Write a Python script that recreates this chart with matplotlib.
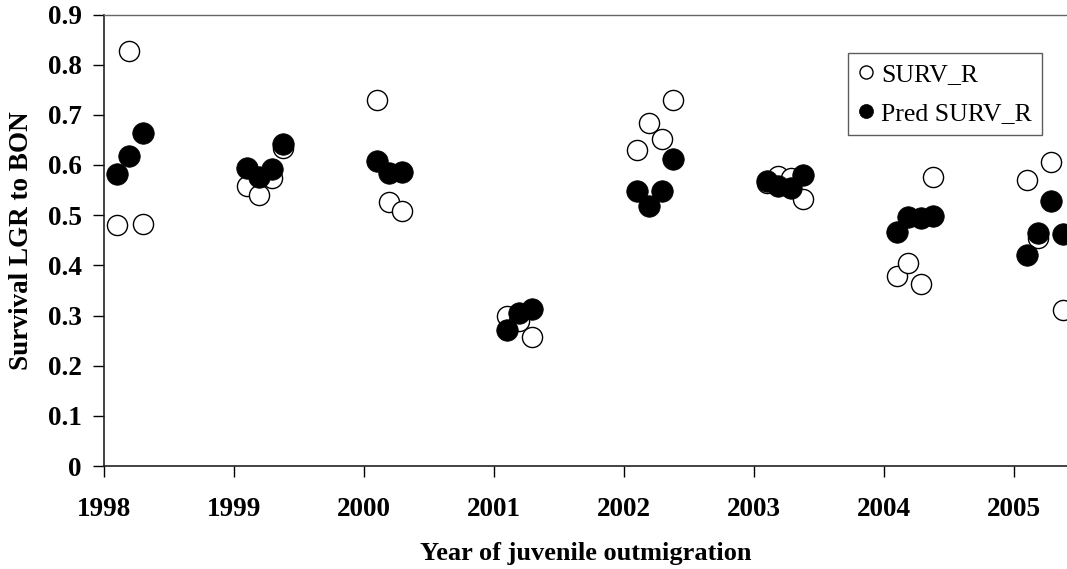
import matplotlib
matplotlib.use("Agg")
import matplotlib.pyplot as plt
import numpy as np

# Data
x_pos = [1998.10, 1998.19, 1998.30,
         1999.10, 1999.19, 1999.29, 1999.38,
         2000.10, 2000.19, 2000.29,
         2001.10, 2001.19, 2001.29,
         2002.10, 2002.19, 2002.29, 2002.38,
         2003.10, 2003.19, 2003.29, 2003.38,
         2004.10, 2004.19, 2004.29, 2004.38,
         2005.10, 2005.19, 2005.29, 2005.38]
surv_r = [0.480, 0.828, 0.483,
          0.558, 0.540, 0.574, 0.634,
          0.729, 0.526, 0.508,
          0.299, 0.289, 0.257,
          0.630, 0.683, 0.652, 0.730,
          0.565, 0.578, 0.575, 0.533,
          0.379, 0.405, 0.363, 0.577,
          0.571, 0.455, 0.605, 0.311]
pred_surv_r = [0.583, 0.617, 0.663,
               0.594, 0.576, 0.592, 0.642,
               0.608, 0.584, 0.587,
               0.271, 0.305, 0.313,
               0.548, 0.519, 0.548, 0.611,
               0.569, 0.559, 0.555, 0.581,
               0.467, 0.497, 0.495, 0.499,
               0.420, 0.465, 0.529, 0.462]
year_ticks = [1998, 1999, 2000, 2001, 2002, 2003, 2004, 2005]
y_ticks = [0, 0.1, 0.2, 0.3, 0.4, 0.5, 0.6, 0.7, 0.8, 0.9]

plt.rcParams['font.family'] = ['Liberation Serif', 'DejaVu Serif']

fig = plt.figure(figsize=(10.67, 5.69), dpi=100)
ax_left = 104 / 1067
ax = fig.add_axes([ax_left, 1 - 466/569, 1 - ax_left, (466 - 14.5)/569])

ax.plot(x_pos, surv_r, linestyle='none', marker='o', markersize=14.5,
        markerfacecolor='white', markeredgecolor='black', markeredgewidth=1.0,
        label='SURV_R', zorder=3)
ax.plot(x_pos, pred_surv_r, linestyle='none', marker='o', markersize=15.5,
        markerfacecolor='black', markeredgecolor='black', markeredgewidth=0.5,
        label='Pred SURV_R', zorder=4)

ax.set_xlim(1998, 2005.41)
ax.set_ylim(0, 0.9)
ax.set_xticks(year_ticks)
ax.set_xticklabels([str(y) for y in year_ticks], fontsize=19.5, fontweight='bold')
ax.set_yticks(y_ticks)
ax.set_yticklabels(['0'] + [f'{v:.1f}' for v in y_ticks[1:]], fontsize=19.5, fontweight='bold')
ax.tick_params(axis='x', direction='out', length=8, width=1, pad=14, colors='black')
ax.tick_params(axis='y', direction='out', length=8, width=1, pad=8)
for t in ax.get_xticklines() + ax.get_yticklines():
    t.set_color('#333333')

ax.spines['right'].set_visible(False)
ax.spines['top'].set_color('#666666')
ax.spines['top'].set_linewidth(1)
ax.spines['left'].set_color('#222222')
ax.spines['bottom'].set_color('#222222')
ax.spines['left'].set_linewidth(1.2)
ax.spines['bottom'].set_linewidth(1.2)

ax.set_xlabel('Year of juvenile outmigration', fontsize=19, fontweight='bold', labelpad=15)
ax.set_ylabel('Survival LGR to BON', fontsize=19.5, fontweight='bold', labelpad=10)

leg = ax.legend(loc='upper left', bbox_to_anchor=((848 - 104) / (1067 - 104), (466 - 53) / (466 - 14.5)),
                fontsize=18.5, frameon=True, fancybox=False, edgecolor='#333333',
                markerscale=0.65, handlelength=0.6, handletextpad=0.3,
                borderpad=0.4, labelspacing=0.6, borderaxespad=0)
leg.get_frame().set_linewidth(1)

fig.savefig('out.png', dpi=100)
